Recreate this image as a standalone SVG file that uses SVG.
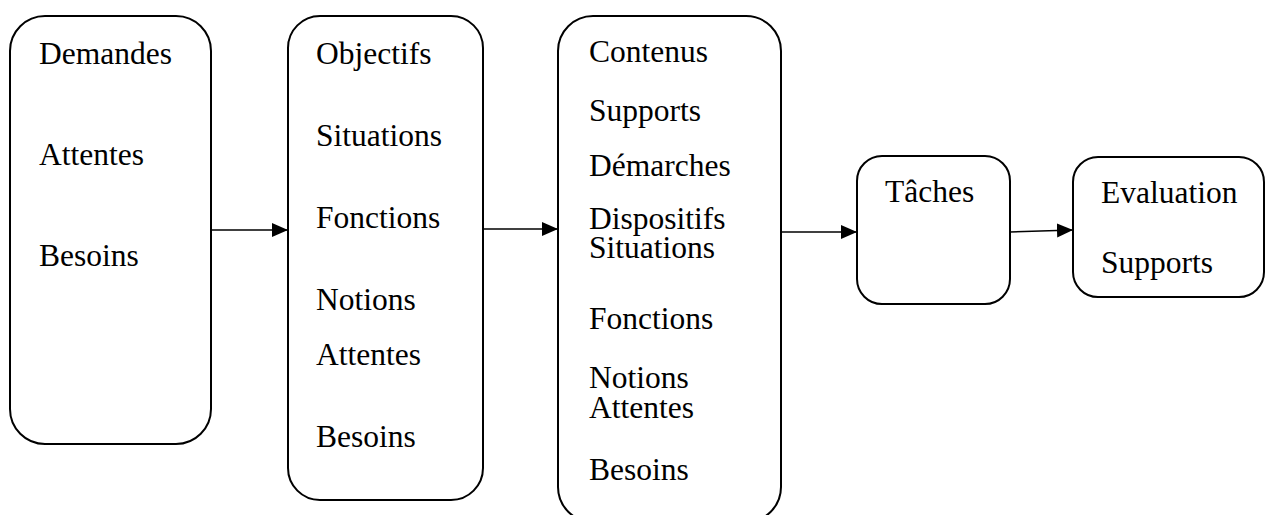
<svg xmlns="http://www.w3.org/2000/svg" width="1265" height="515" viewBox="0 0 1265 515">
<style>
.box{fill:#fff;stroke:#000;stroke-width:2}
.t{font-family:"Liberation Serif","Times New Roman",serif;font-size:31.5px;fill:#000}
.c{stroke:#000;stroke-width:1.6;fill:none}
</style>
<defs>
<marker id="ah" markerWidth="17" markerHeight="15" refX="16" refY="7" orient="auto" markerUnits="userSpaceOnUse">
<path d="M0,0 L16,7 L0,14 Z" fill="#000"/>
</marker>
</defs>
<rect width="1265" height="515" fill="#fff"/>
<g id="node-demandes">
<rect class="box" x="10" y="16" width="201" height="428" rx="35" ry="35"/>
<text class="t" x="39" y="64">Demandes</text>
<text class="t" x="39" y="165">Attentes</text>
<text class="t" x="39" y="266">Besoins</text>
</g>
<g id="node-objectifs">
<rect class="box" x="288" y="16" width="195" height="484" rx="32" ry="32"/>
<text class="t" x="316" y="64">Objectifs</text>
<text class="t" x="316" y="146">Situations</text>
<text class="t" x="316" y="228">Fonctions</text>
<text class="t" x="316" y="310">Notions</text>
<text class="t" x="316" y="365">Attentes</text>
<text class="t" x="316" y="447">Besoins</text>
</g>
<g id="node-contenus">
<rect class="box" x="558" y="16" width="223" height="506" rx="35" ry="35"/>
<text class="t" x="589" y="62">Contenus</text>
<text class="t" x="589" y="121">Supports</text>
<text class="t" x="589" y="176">Démarches</text>
<text class="t" x="589" y="229">Dispositifs</text>
<text class="t" x="589" y="258">Situations</text>
<text class="t" x="589" y="329">Fonctions</text>
<text class="t" x="589" y="388">Notions</text>
<text class="t" x="589" y="418">Attentes</text>
<text class="t" x="589" y="480">Besoins</text>
</g>
<g id="node-taches">
<rect class="box" x="857" y="156" width="153" height="148" rx="25" ry="25"/>
<text class="t" x="885" y="202">Tâches</text>
</g>
<g id="node-evaluation">
<rect class="box" x="1073" y="157" width="191" height="140" rx="25" ry="25"/>
<text class="t" x="1101" y="203">Evaluation</text>
<text class="t" x="1101" y="273">Supports</text>
</g>
<g id="connectors">
<line class="c" x1="211" y1="230" x2="288" y2="230" marker-end="url(#ah)"/>
<line class="c" x1="483" y1="229" x2="558" y2="229" marker-end="url(#ah)"/>
<line class="c" x1="781" y1="232" x2="857" y2="232" marker-end="url(#ah)"/>
<line class="c" x1="1010" y1="232" x2="1073" y2="230" marker-end="url(#ah)"/>
</g>
</svg>
